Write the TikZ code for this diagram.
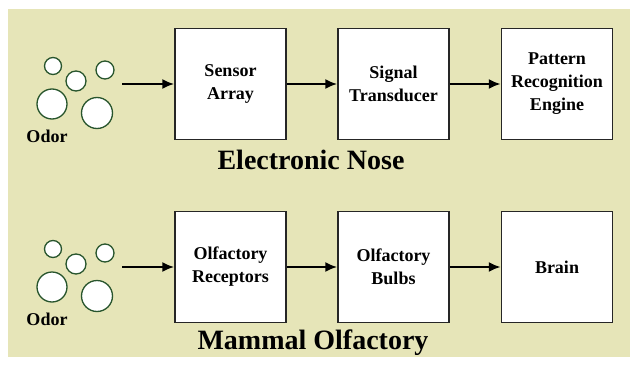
\documentclass[tikz,border=0pt]{standalone}
\usepackage{fontspec}
\setmainfont{Liberation Serif}
\usepackage{tikz}
\usetikzlibrary{shapes,arrows,arrows.meta}
\definecolor{bgbeige}{RGB}{230,229,184}
\definecolor{odorgreen}{RGB}{40,85,45}
\tikzstyle{block} = [draw=black!85, fill=white, line width=1.5pt, minimum width=111pt, minimum height=111pt, inner sep=0pt, text centered, align=center, font=\fontsize{18}{23}\selectfont\bfseries]
\tikzstyle{bubble} = [draw=odorgreen, fill=white, line width=1.3pt]
\tikzstyle{title} = [font=\fontsize{28}{30}\selectfont\bfseries]
\tikzset{
  line/.style ={draw, line width=2pt, -{Latex[length=12pt,width=10pt]}, shorten >=0pt}
}

\begin{document}
\begin{tikzpicture}[x=1pt,y=-1pt]
	\useasboundingbox (0,0) rectangle (630,367);
	\fill[bgbeige] (8,9) rectangle (630,357);
	% electronic nose
	\node[block] (sensor) at (230.5,84) {Sensor\\Array};
	\node[block] (transducer) at (393.5,84) {Signal\\Transducer};
	\node[block] (engine) at (557,84) {Pattern\\Recognition\\Engine};
	\node[title] (enose) at (311,160) {Electronic Nose};
	% mammal olfactory
	\node[block] (receptors) at (230.5,267) {Olfactory\\Receptors};
	\node[block] (bulbs) at (393.5,267) {Olfactory\\Bulbs};
	\node[block] (brain) at (557,267) {Brain};
	\node[title] (mammal) at (313,343) {Mammal Olfactory};
	% odor bubbles
	\foreach \dy/\name in {0/odorA,183/odorB} {
		\begin{scope}[yshift=-\dy pt]
			\draw[bubble] (53,66) circle[radius=8.5pt];
			\draw[bubble] (76,81) circle[radius=10pt];
			\draw[bubble] (105,70) circle[radius=9pt];
			\draw[bubble] (52,104) circle[radius=15pt];
			\draw[bubble] (97,113) circle[radius=15.5pt];
			\node[font=\fontsize{18}{20}\selectfont\bfseries] (\name label) at (47,136) {Odor};
			\coordinate (\name) at (122,84);
		\end{scope}
	}
	\draw[line] (odorA) -- (sensor);
	\draw[line] (sensor) -- (transducer);
	\draw[line] (transducer) -- (engine);
	\draw[line] (odorB) -- (receptors);
	\draw[line] (receptors) -- (bulbs);
	\draw[line] (bulbs) -- (brain);
\end{tikzpicture}
\end{document}
